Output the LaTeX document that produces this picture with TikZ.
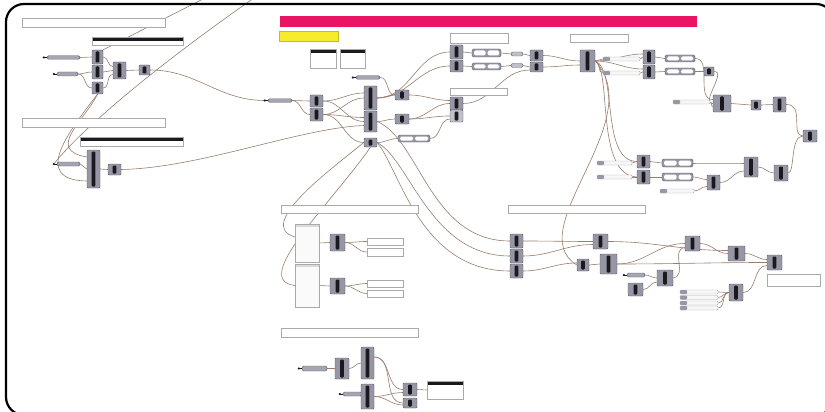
\documentclass[tikz,border=0pt]{standalone}
\usepackage{tikz}

\definecolor{compfill}{RGB}{150,150,164}
\definecolor{compline}{RGB}{92,92,104}
\definecolor{compdark}{RGB}{26,26,30}
\definecolor{wirec}{RGB}{152,124,108}
\definecolor{groupline}{RGB}{170,170,170}
\definecolor{barpink}{RGB}{234,20,100}
\definecolor{noteyellow}{RGB}{246,236,44}

\pgfdeclarelayer{wirelayer}
\pgfsetlayers{wirelayer,main}

\tikzset{
  comp/.style args={#1x#2}{draw=compline, fill=compfill, rounded corners=1pt,
    inner sep=0pt, minimum width=#1pt, minimum height=#2pt,
    path picture={\fill[compdark]
      ([xshift=-1.8pt,yshift=1.5pt]path picture bounding box.south) rectangle
      ([xshift=1.8pt,yshift=-1.5pt]path picture bounding box.north);}},
  grp/.style args={#1x#2}{draw=groupline, fill=white, inner sep=0pt,
    minimum width=#1pt, minimum height=#2pt},
  hpnl/.style args={#1x#2}{draw=groupline, fill=white, inner sep=0pt,
    minimum width=#1pt, minimum height=#2pt,
    path picture={\fill[compdark] (path picture bounding box.north west)
      rectangle ([yshift=-4pt]path picture bounding box.north east);}},
  vlist/.style args={#1x#2}{draw=groupline, fill=gray!4, inner sep=0pt,
    minimum width=#1pt, minimum height=#2pt,
    path picture={\fill[gray!30] (path picture bounding box.north west)
      rectangle ([yshift=-3pt]path picture bounding box.north east);}},
  par/.style args={#1x#2}{draw=compline, fill=compfill!85!white,
    rounded corners=1.5pt, inner sep=0pt, minimum width=#1pt, minimum height=#2pt},
  sld/.style args={#1x#2}{draw=groupline, fill=gray!6, rounded corners=1pt,
    inner sep=0pt, minimum width=#1pt, minimum height=#2pt,
    path picture={\fill[compfill] (path picture bounding box.north west)
      rectangle ([xshift=7pt]path picture bounding box.south west);}},
  nsld/.style args={#1x#2}{draw=compline, fill=compfill, rounded corners=1.5pt,
    inner sep=0pt, minimum width=#1pt, minimum height=#2pt,
    path picture={
      \fill[white] ([xshift=2pt,yshift=-1.5pt]path picture bounding box.north west)
        rectangle ([xshift=-1pt,yshift=1.5pt]path picture bounding box.south);
      \fill[white] ([xshift=1pt,yshift=-1.5pt]path picture bounding box.north)
        rectangle ([xshift=-2pt,yshift=1.5pt]path picture bounding box.south east);}},
  oval/.style args={#1x#2}{draw=compline, fill=compfill!60!white, rounded corners=2pt,
    inner sep=0pt, minimum width=#1pt, minimum height=#2pt},
  wire/.style={draw=wirec, line width=0.6pt},
}

\begin{document}
\begin{tikzpicture}[x=1pt,y=-1pt]
  \useasboundingbox (0,0) rectangle (825,412);
  % Frame
  \draw[line width=2.2pt, rounded corners=18pt] (6,4) rectangle (834,415);

  % Top left groups
  \node[grp=143x9] (grpA) at (93.5,22.5) {};
  \node[hpnl=91x8] (hdrA) at (137.5,41) {};
  \node[par=33x3.5] (parA1) at (63.5,57.5) {};
  \node[par=21x4] (parA2) at (67.5,74) {};
  \node[comp=11x14] (cA1) at (97.5,57) {};
  \node[comp=11x14] (cA2) at (97.5,72) {};
  \node[comp=11x12] (cA3) at (97.5,88) {};
  \node[comp=13x17] (cA4) at (119.5,70.5) {};
  \node[comp=11x10] (cA5) at (144.5,70) {};

  \node[grp=143x9] (grpB) at (93.5,122.5) {};
  \node[hpnl=103x9] (hdrB) at (131.5,141.5) {};
  \node[par=23x4] (parB) at (68.5,164) {};
  \node[comp=13x38] (cB1) at (93.5,169) {};
  \node[comp=13x11] (cB2) at (114.5,169.5) {};

  % Title bar and notes
  \node[fill=barpink, inner sep=0pt, minimum width=417pt, minimum height=11pt] (title) at (488.5,21.5) {};
  \node[fill=noteyellow, draw=noteyellow!80!black, inner sep=0pt, minimum width=59pt, minimum height=10pt] (note) at (308.5,36) {};
  \node[hpnl=26x19] (pnlA) at (323,58.5) {};
  \node[hpnl=25x19] (pnlB) at (352.5,58.5) {};

  % Centre
  \node[par=24x3.5] (parC1) at (368,77.5) {};
  \node[par=24x3.5] (parC0) at (280,100.5) {};
  \node[comp=13x12] (cC1) at (316.5,101) {};
  \node[comp=13x13] (cC2) at (316.5,114.5) {};
  \node[comp=13x24] (cC3) at (370.5,98) {};
  \node[comp=13x21] (cC4) at (370.5,121.5) {};
  \node[comp=13x9] (cC5) at (370.5,142.5) {};
  \node[comp=14x10] (cC6) at (402,95) {};
  \node[comp=14x10] (cC7) at (402,119) {};
  \node[nsld=32x7] (sldC) at (414,138.5) {};

  \node[grp=58x10] (grpC1) at (479,38) {};
  \node[comp=13x14] (cD1) at (456.5,52) {};
  \node[comp=13x12] (cD2) at (456.5,66) {};
  \node[nsld=29x8] (sldD1) at (486.5,53) {};
  \node[nsld=29x7] (sldD2) at (486.5,66.5) {};
  \node[oval=12x4] (elD1) at (517,54) {};
  \node[oval=12x4] (elD2) at (517,65.5) {};
  \node[comp=13x11] (cD3) at (536.5,55.5) {};
  \node[comp=13x10] (cD4) at (536.5,67) {};
  \node[grp=57x7] (grpC2) at (478.5,91.5) {};
  \node[comp=13x13] (cD5) at (456.5,103.5) {};
  \node[comp=13x12, fill=compfill!60!white] (cD6) at (456.5,116) {};

  % Right cluster
  \node[grp=58x8] (grpE) at (599,38) {};
  \node[comp=15x22] (cE1) at (587.5,61) {};
  \node[sld=37x4] (sldE1) at (621.5,59) {};
  \node[sld=37x4] (sldE2) at (621.5,73) {};
  \node[comp=12x14] (cE2) at (649,57) {};
  \node[comp=12x14] (cE3) at (649,72) {};
  \node[nsld=30x7] (sldE3) at (680,58.5) {};
  \node[nsld=30x7] (sldE4) at (680,71.5) {};
  \node[comp=10x9] (cE4) at (709,71.5) {};
  \node[sld=37x4] (sldE5) at (691.5,102) {};
  \node[comp=18x17] (cE5) at (722,103.5) {};
  \node[comp=10x10] (cE6) at (756,105) {};
  \node[comp=13x15] (cE7) at (779.5,104.5) {};
  \node[comp=14x12] (cE8) at (810,136) {};

  \node[sld=35x4] (sldF1) at (614.5,163) {};
  \node[sld=35x4] (sldF2) at (614.5,177) {};
  \node[comp=13x13] (cF1) at (643.5,161.5) {};
  \node[comp=13x14] (cF2) at (643.5,177) {};
  \node[nsld=31x8] (sldF3) at (677.5,163) {};
  \node[nsld=31x8] (sldF4) at (677.5,177) {};
  \node[comp=13x15] (cF3) at (713.5,182.5) {};
  \node[sld=34x4] (parF) at (677,191) {};
  \node[comp=14x20] (cF4) at (751,167) {};
  \node[comp=14x16] (cF5) at (781,173) {};

  % Lower middle
  \node[grp=137x8] (grpG1) at (349.5,209) {};
  \node[grp=137x8] (grpG2) at (576.5,209) {};
  \node[vlist=24x38] (vlG1) at (307,243) {};
  \node[vlist=24x43] (vlG2) at (307,285.5) {};
  \node[comp=15x17] (cG1) at (337.5,242.5) {};
  \node[comp=15x16] (cG2) at (337.5,286) {};
  \node[hpnl=36x7, path picture={}] (pnG1) at (385,241.5) {};
  \node[hpnl=36x8, path picture={}] (pnG2) at (385,252) {};
  \node[hpnl=36x7, path picture={}] (pnG3) at (385,283.5) {};
  \node[hpnl=36x7, path picture={}] (pnG4) at (385,293.5) {};
  \node[comp=13x14] (cH1) at (516.5,241) {};
  \node[comp=13x14] (cH2) at (516.5,256) {};
  \node[comp=13x14] (cH3) at (516.5,271) {};

  \node[grp=137x9] (grpG3) at (349.5,332.5) {};
  \node[par=25x5] (parG) at (314.5,368.5) {};
  \node[comp=14x21] (cG3) at (342,368.5) {};
  \node[comp=13x32] (cG4) at (367.5,363) {};
  \node[par=19x4] (parG2) at (352.5,394) {};
  \node[comp=13x25] (cG5) at (367.5,396.5) {};
  \node[comp=14x13] (cG6) at (410,389.5) {};
  \node[comp=14x10] (cG7) at (410,403) {};
  \node[hpnl=36x18] (pnG5) at (445,390) {};

  % Lower right
  \node[comp=15x15] (cJ1) at (600.5,241.5) {};
  \node[comp=12x12] (cJ2) at (583,265) {};
  \node[comp=17x20] (cJ3) at (608.5,264) {};
  \node[comp=15x15] (cJ4) at (692.5,243.5) {};
  \node[comp=17x15] (cJ5) at (736.5,253.5) {};
  \node[comp=15x15] (cJ6) at (774.5,262.5) {};
  \node[grp=53x12] (grpJ) at (793.5,280) {};
  \node[par=18x4] (parJ) at (636,275) {};
  \node[comp=16x16] (cJ7) at (665,278) {};
  \node[comp=15x13] (cJ8) at (635.5,289.5) {};
  \foreach \i/\y in {1/292,2/297.5,3/303,4/308}
    \node[sld=38x4] (sldJ\i) at (699,\y) {};
  \node[comp=14x17] (cJ9) at (736,292.5) {};

  % Input dots
  \foreach \p in {parA1,parA2,parB,parC0,parC1,parG,parG2,parJ} {
    \draw[compdark, line width=0.5pt] ([xshift=-3pt]\p.west) -- (\p.west);
    \fill[compdark] ([xshift=-3pt]\p.west) circle (1.2pt);
  }

  \begin{pgfonlayer}{wirelayer}
    \coordinate (topA) at (205,-2);
    \coordinate (topB) at (254,-2);
    % Top left wires
    \draw[wire] (topA) -- (cA1.north east);
    \draw[wire] (topB) .. controls (165,60) and (85,125) .. ([xshift=-3pt]parB.west);
    \draw[wire] (parA1.east) -- (cA1.west);
    \draw[wire] (parA2.east) to[out=0,in=180] (cA2.west);
    \draw[wire] (parA2.east) to[out=0,in=180] (cA3.west);
    \draw[wire] (cA1.east) to[out=0,in=180] ([yshift=4pt]cA4.west);
    \draw[wire] (cA2.east) to[out=0,in=180] (cA4.west);
    \draw[wire] (cA3.east) to[out=0,in=180] ([yshift=-4pt]cA4.west);
    \draw[wire] (cA4.east) -- (cA5.west);
    \draw[wire] (cA5.east) to[out=0,in=180] ([xshift=-3pt]parC0.west);
    \draw[wire] (cA3.south) .. controls (85,120) and (45,150) .. ([yshift=12pt]cB1.west);
    \draw[wire] (cA3.south) .. controls (70,130) and (30,180) .. ([yshift=-12pt]cB1.west);
    \draw[wire] (parB.east) -- (cB1.west);
    \draw[wire] (cB1.east) -- (cB2.west);
    \draw[wire] (cB2.east) .. controls (200,168) and (300,128) .. ([yshift=-4pt]cC4.west);
    % Centre wires
    \draw[wire] (parC0.east) to[out=0,in=180] (cC1.west);
    \draw[wire] (parC0.east) to[out=0,in=180] (cC2.west);
    \draw[wire] (cC1.east) to[out=0,in=180] ([yshift=5pt]cC3.west);
    \draw[wire] (cC1.east) to[out=0,in=180] (cC4.west);
    \draw[wire] (cC2.east) to[out=0,in=180] (cC3.west);
    \draw[wire] (cC2.east) to[out=0,in=180] ([yshift=4pt]cC4.west);
    \draw[wire] (cC2.east) to[out=0,in=180] (cC5.west);
    \draw[wire] (parC1.east) to[out=0,in=180] (cC6.west);
    \draw[wire] (cC3.east) to[out=0,in=180] (cD1.west);
    \draw[wire] (cC3.east) to[out=0,in=180] (cD2.west);
    \draw[wire] (cC3.east) to[out=0,in=180] (cC6.west);
    \draw[wire] (cC4.east) to[out=0,in=180] (cC7.west);
    \draw[wire] (cC5.east) to[out=0,in=180] (sldC.west);
    \draw[wire] (cC6.east) to[out=0,in=180] ([yshift=3pt]cD5.west);
    \draw[wire] (cC7.east) to[out=0,in=180] (cD5.west);
    \draw[wire] (cC7.east) to[out=0,in=180] (cD6.west);
    \draw[wire] (sldC.east) to[out=0,in=180] ([yshift=-3pt]cD6.west);
    \draw[wire] (cD1.east) -- (sldD1.west);
    \draw[wire] (cD2.east) -- (sldD2.west);
    \draw[wire] (sldD1.east) -- (elD1.west);
    \draw[wire] (sldD2.east) -- (elD2.west);
    \draw[wire] (elD1.east) -- (cD3.west);
    \draw[wire] (elD2.east) -- (cD4.west);
    \draw[wire] (cD5.east) to[out=0,in=180] ([yshift=-3pt]cD4.west);
    \draw[wire] (cD3.east) to[out=0,in=180] (cE1.west);
    \draw[wire] (cD4.east) to[out=0,in=180] ([yshift=-4pt]cE1.west);
    % Down to the lower groups
    \draw[wire] (cC4.east) .. controls (420,140) and (430,241) .. (cH1.west);
    \draw[wire] (cC5.east) .. controls (410,160) and (430,256) .. (cH2.west);
    \draw[wire] (cC5.east) .. controls (400,170) and (420,271) .. (cH3.west);
    \draw[wire] (cC5.west) .. controls (330,170) and (255,225) .. ([yshift=6pt]vlG1.west);
    \draw[wire] (cC5.south) .. controls (330,205) and (250,280) .. (vlG2.west);
    \draw[wire] (vlG1.east) -- (cG1.west);
    \draw[wire] (vlG2.east) -- (cG2.west);
    \draw[wire] (cG1.east) to[out=0,in=180] (pnG1.west);
    \draw[wire] (cG1.east) to[out=0,in=180] (pnG2.west);
    \draw[wire] (cG2.east) to[out=0,in=180] (pnG3.west);
    \draw[wire] (cG2.east) to[out=0,in=180] (pnG4.west);
    \draw[wire] (parG.east) -- (cG3.west);
    \draw[wire] (cG3.east) to[out=0,in=180] (cG4.west);
    \draw[wire] (parG2.east) -- (cG5.west);
    \draw[wire] ([yshift=6pt]cG4.east) to[out=0,in=180] (cG6.west);
    \draw[wire] ([yshift=6pt]cG4.east) to[out=0,in=180] (cG7.west);
    \draw[wire] (cG5.east) to[out=0,in=180] ([yshift=-3pt]cG6.west);
    \draw[wire] (cG5.east) to[out=0,in=180] ([yshift=-2pt]cG7.west);
    \draw[wire] (cG6.east) -- (pnG5.west);
    % Right cluster wires
    \draw[wire] (cE1.east) to[out=0,in=180] (sldE1.west);
    \draw[wire] (cE1.east) to[out=0,in=180] (sldE2.west);
    \draw[wire] (cE1.east) to[out=0,in=180] ([yshift=3pt]cE2.west);
    \draw[wire] (cE1.east) to[out=0,in=180] ([yshift=3pt]cE3.west);
    \draw[wire] (sldE1.east) to[out=0,in=180] (cE2.west);
    \draw[wire] (sldE2.east) to[out=0,in=180] (cE3.west);
    \draw[wire] (cE2.east) -- (sldE3.west);
    \draw[wire] (cE3.east) -- (sldE4.west);
    \draw[wire] (sldE4.east) -- (cE4.west);
    \draw[wire] (sldE3.east) to[out=0,in=180] ([yshift=4pt]cE5.west);
    \draw[wire] (cE4.east) to[out=0,in=180] (cE5.west);
    \draw[wire] (sldE5.east) to[out=0,in=180] ([yshift=-3pt]cE5.west);
    \draw[wire] (cE5.east) -- (cE6.west);
    \draw[wire] (cE6.east) -- (cE7.west);
    \draw[wire] (cE7.east) .. controls (805,104) and (790,136) .. (cE8.west);
    \draw[wire] (cF5.east) .. controls (795,173) and (790,136) .. (cE8.west);
    \draw[wire] (cE1.east) .. controls (618,70) and (600,161) .. (cF1.west);
    \draw[wire] (cE1.east) .. controls (612,70) and (595,175) .. (cF2.west);
    \draw[wire] (cE1.east) .. controls (650,120) and (520,230) .. (cJ2.west);
    \draw[wire] (sldF1.east) -- (cF1.west);
    \draw[wire] (sldF2.east) -- (cF2.west);
    \draw[wire] (cF1.east) -- (sldF3.west);
    \draw[wire] (cF2.east) -- (sldF4.west);
    \draw[wire] (sldF3.east) to[out=0,in=180] ([yshift=4pt]cF4.west);
    \draw[wire] (sldF4.east) to[out=0,in=180] ([yshift=3pt]cF3.west);
    \draw[wire] (parF.east) to[out=0,in=180] ([yshift=-4pt]cF3.west);
    \draw[wire] (cF3.east) to[out=0,in=180] ([yshift=-4pt]cF4.west);
    \draw[wire] (cF4.east) to[out=0,in=180] (cF5.west);
    % Lower right wires
    \draw[wire] (cH1.east) to[out=0,in=180] (cJ1.west);
    \draw[wire] (cH2.east) to[out=0,in=180] ([yshift=-3pt]cJ1.west);
    \draw[wire] (cH3.east) to[out=0,in=180] ([yshift=2pt]cJ2.west);
    \draw[wire] (cJ1.east) to[out=0,in=180] ([yshift=3pt]cJ5.west);
    \draw[wire] (cJ2.east) -- (cJ3.west);
    \draw[wire] (cJ3.east) to[out=0,in=180] (cJ4.west);
    \draw[wire] (cJ3.east) to[out=0,in=180] (cJ6.west);
    \draw[wire] (cJ4.east) to[out=0,in=180] (cJ5.west);
    \draw[wire] (cJ5.east) to[out=0,in=180] ([yshift=3pt]cJ6.west);
    \draw[wire] (cJ9.east) to[out=0,in=180] ([yshift=-3pt]cJ6.west);
    \draw[wire] (parJ.east) to[out=0,in=180] (cJ7.west);
    \draw[wire] (cJ8.east) to[out=0,in=180] ([yshift=-4pt]cJ7.west);
    \draw[wire] (cJ7.east) .. controls (688,275) and (670,250) .. ([yshift=-4pt]cJ4.west);
    \foreach \i in {1,...,4}
      \draw[wire] (sldJ\i.east) to[out=0,in=180] (cJ9.west);
  \end{pgfonlayer}
\end{tikzpicture}
\end{document}
